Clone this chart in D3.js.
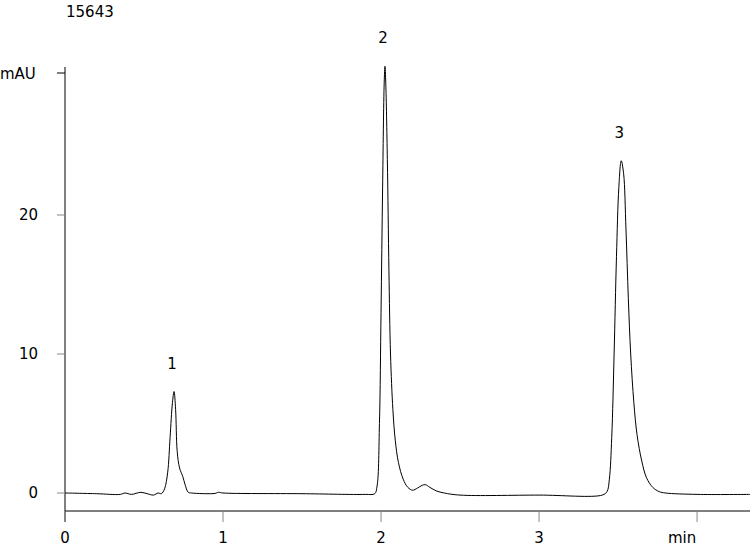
<!DOCTYPE html>
<html>
<head>
<meta charset="utf-8">
<script src="https://cdn.jsdelivr.net/npm/d3@7"></script>
<style>
  body { margin: 0; background: #fff; }
  text { font-family: "DejaVu Sans", Verdana, sans-serif; font-size: 15px; fill: #000; }
</style>
</head>
<body>
<div id="chart"></div>
<script>
const sampleName = "15643";
const times = [0, 0.2, 0.35, 0.38, 0.42, 0.48, 0.52, 0.56, 0.59, 0.61, 0.63, 0.65, 0.665, 0.68, 0.69, 0.70, 0.71, 0.725, 0.745, 0.76, 0.78, 0.8,
  0.95, 0.97, 1.0, 1.5, 1.9, 1.96, 1.975, 1.99, 2.0, 2.01, 2.02, 2.025, 2.03, 2.04, 2.05, 2.06, 2.075, 2.09, 2.11, 2.14, 2.17, 2.2,
  2.23, 2.26, 2.28, 2.31, 2.35, 2.4, 2.5, 3.0, 3.4, 3.43, 3.445, 3.46, 3.475, 3.49, 3.505, 3.52, 3.535, 3.55, 3.565, 3.58, 3.6,
  3.62, 3.65, 3.68, 3.72, 3.76, 3.8, 4.0, 4.335];
const mAU = [0, -0.05, -0.1, 0.0, -0.1, 0.05, -0.05, -0.15, 0.0, -0.05, 0.3, 1.5, 4.0, 6.5, 7.3, 6.0, 3.0, 1.8, 1.2, 0.6, 0.05, 0.0,
  -0.03, 0.05, 0, -0.05, -0.1, -0.05, 0.5, 5, 13, 22, 29.5, 30.7, 29.5, 24, 16, 10, 6, 3.8, 2.2, 1.0, 0.4, 0.2,
  0.35, 0.55, 0.6, 0.4, 0.15, 0, -0.15, -0.15, -0.15, 0.1, 1, 4, 10, 17, 22, 23.9, 23, 19, 14, 10, 6.5,
  4.2, 2.3, 1.1, 0.4, 0.1, 0.0, -0.1, -0.1];
const peakTimes = [0.69, 2.025, 3.52];
const peakHeights = [7.3, 30.7, 23.9];
const peakLabels = ["1", "2", "3"];
const xTicks = [0, 1, 2, 3, 4];
const xTickLabels = ["0", "1", "2", "3", "min"];
const yTicks = [0, 10, 20];

const W = 750, H = 546;
const svg = d3.select("#chart").append("svg").attr("width", W).attr("height", H);

const x = d3.scaleLinear().domain([0, 4.335]).range([65, 750]);
const y = d3.scaleLinear().domain([0, 10]).range([493, 354]);
const yTop = 67, xAxisY = 511;

svg.append("text").attr("x", 66).attr("y", 17).text(sampleName);

// y axis
svg.append("line").attr("x1", 65).attr("x2", 65).attr("y1", yTop).attr("y2", 522).attr("stroke", "#000");
svg.selectAll(".ytick").data(yTicks).enter().append("line")
  .attr("x1", 57).attr("x2", 65).attr("y1", d => y(d)).attr("y2", d => y(d)).attr("stroke", "#888");
svg.selectAll(".ylab").data(yTicks).enter().append("text")
  .attr("x", 38).attr("y", d => y(d) + 5).attr("text-anchor", "end").text(d => d);
svg.append("line").attr("x1", 57).attr("x2", 65).attr("y1", yTop + 6).attr("y2", yTop + 6).attr("stroke", "#000");
svg.append("text").attr("x", 0).attr("y", 79).text("mAU");

// x axis
svg.append("line").attr("x1", 65).attr("x2", 750).attr("y1", xAxisY).attr("y2", xAxisY).attr("stroke", "#000");
svg.selectAll(".xtick").data(xTicks).enter().append("line")
  .attr("x1", d => x(d)).attr("x2", d => x(d)).attr("y1", xAxisY).attr("y2", 522).attr("stroke", "#888");
svg.selectAll(".xlab").data(xTicks).enter().append("text")
  .attr("x", (d, i) => i === 4 ? x(d) - 15 : x(d)).attr("y", 543).attr("text-anchor", "middle")
  .text((d, i) => xTickLabels[i]);

// trace
const line = d3.line().x((d, i) => x(times[i])).y(d => y(d)).curve(d3.curveCatmullRom.alpha(0.5));
svg.append("path").datum(mAU).attr("d", line).attr("fill", "none").attr("stroke", "#000").attr("stroke-width", 1);

svg.selectAll(".plab").data(peakTimes).enter().append("text")
  .attr("x", d => x(d) - 2).attr("y", (d, i) => y(peakHeights[i]) - 23).attr("text-anchor", "middle")
  .text((d, i) => peakLabels[i]);
</script>
</body>
</html>
